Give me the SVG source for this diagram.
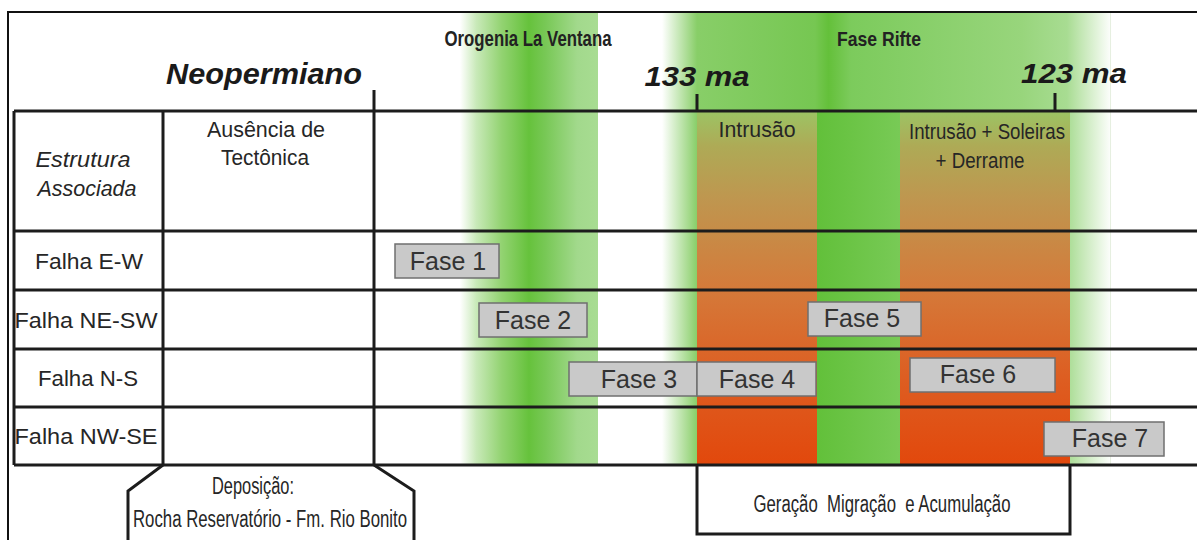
<svg xmlns="http://www.w3.org/2000/svg" width="1197" height="540" viewBox="0 0 1197 540">
<style>
.ln{stroke:#1c1c1c;stroke-width:3;fill:none}
.fr{stroke:#111;stroke-width:2;fill:none}
.t{font-family:"Liberation Sans",Arial,sans-serif;fill:#262626}
.big{font-family:"Liberation Sans",Arial,sans-serif;font-weight:bold;font-style:italic;fill:#1a1a1a}
.hd{font-family:"Liberation Sans",Arial,sans-serif;font-weight:bold;fill:#222}
.box{fill:#c9c9c9;stroke:#6f6f6f;stroke-width:1.5}
.fl{font-family:"Liberation Sans",Arial,sans-serif;font-size:25px;fill:#333}
</style>
<defs>
<linearGradient id="gOro" gradientUnits="userSpaceOnUse" x1="460" y1="0" x2="598" y2="0">
<stop offset="0" stop-color="#ffffff"/>
<stop offset="0.12" stop-color="#c8e9b8"/>
<stop offset="0.3" stop-color="#93d372"/>
<stop offset="0.5" stop-color="#66c23c"/>
<stop offset="0.62" stop-color="#78c856"/>
<stop offset="0.85" stop-color="#a2d98c"/>
<stop offset="1" stop-color="#a8dc92"/>
</linearGradient>
<linearGradient id="gRif" gradientUnits="userSpaceOnUse" x1="662" y1="0" x2="1112" y2="0">
<stop offset="0" stop-color="#ffffff"/>
<stop offset="0.078" stop-color="#88ce68"/>
<stop offset="0.34" stop-color="#76c752"/>
<stop offset="0.37" stop-color="#64c03a"/>
<stop offset="0.42" stop-color="#7ccb5c"/>
<stop offset="0.8" stop-color="#98d57c"/>
<stop offset="0.9" stop-color="#a8dc92"/>
<stop offset="1" stop-color="#ffffff"/>
</linearGradient>
<linearGradient id="gOr" gradientUnits="userSpaceOnUse" x1="0" y1="111" x2="0" y2="465">
<stop offset="0" stop-color="#9cc464"/>
<stop offset="0.1" stop-color="#aeaa56"/>
<stop offset="0.25" stop-color="#bf964f"/>
<stop offset="0.5" stop-color="#d47a3a"/>
<stop offset="0.75" stop-color="#dd5e22"/>
<stop offset="1" stop-color="#e2480c"/>
</linearGradient>
<linearGradient id="gStrip" gradientUnits="userSpaceOnUse" x1="817" y1="0" x2="900" y2="0">
<stop offset="0" stop-color="#62c03a"/>
<stop offset="1" stop-color="#78ca56"/>
</linearGradient>
</defs>
<rect width="1197" height="540" fill="#ffffff"/>
<g id="bands">
<rect x="460" y="13" width="138" height="452" fill="url(#gOro)"/>
<rect x="662" y="13" width="450" height="452" fill="url(#gRif)"/>
<line x1="1110.5" y1="13" x2="1110.5" y2="465" stroke="#e6efe0" stroke-width="1"/>
<rect x="697" y="111" width="120" height="354" fill="url(#gOr)"/>
<rect x="817" y="111" width="83" height="354" fill="url(#gStrip)"/>
<rect x="900" y="111" width="170" height="354" fill="url(#gOr)"/>
</g>
<g id="connectors">
<path class="fr" d="M8 540 V12 H1197"/>
<path class="ln" d="M14 111 H1197 M14 231 H1197 M14 290 H1197 M14 349 H1197 M14 407 H1197 M14 465 H1197"/>
<path class="ln" d="M14 111 V465 M163 111 V465 M374 90 V465"/>
<path class="ln" d="M697 94 V111 M1055 93 V111"/>
<path class="ln" d="M163 465 L128 491 V540 M374 465 L414 491 V540"/>
<path class="ln" d="M697 465 V534 H1070 V465"/>
</g>
<g id="headers">
<text class="big" x="264" y="84" font-size="30" text-anchor="middle" textLength="196" lengthAdjust="spacingAndGlyphs">Neopermiano</text>
<text class="hd" x="528" y="46" font-size="22" text-anchor="middle" textLength="167" lengthAdjust="spacingAndGlyphs">Orogenia La Ventana</text>
<text class="hd" x="879" y="46" font-size="21" text-anchor="middle" textLength="84" lengthAdjust="spacingAndGlyphs">Fase Rifte</text>
<text class="big" x="697" y="86" font-size="27" text-anchor="middle" textLength="105" lengthAdjust="spacingAndGlyphs">133 ma</text>
<text class="big" x="1074" y="83" font-size="27" text-anchor="middle" textLength="106" lengthAdjust="spacingAndGlyphs">123 ma</text>
</g>
<g id="col-headers">
<text class="t" x="83" y="167" font-size="22" font-style="italic" text-anchor="middle" textLength="95" lengthAdjust="spacingAndGlyphs">Estrutura</text>
<text class="t" x="87" y="196" font-size="22" font-style="italic" text-anchor="middle" textLength="99" lengthAdjust="spacingAndGlyphs">Associada</text>
<text class="t" x="266" y="137" font-size="22" text-anchor="middle" textLength="118" lengthAdjust="spacingAndGlyphs">Ausência de</text>
<text class="t" x="265" y="165" font-size="22" text-anchor="middle" textLength="88" lengthAdjust="spacingAndGlyphs">Tectônica</text>
<text class="t" x="757" y="137" font-size="22" text-anchor="middle" textLength="77" lengthAdjust="spacingAndGlyphs">Intrusão</text>
<text class="t" x="987" y="139" font-size="22" text-anchor="middle" textLength="156" lengthAdjust="spacingAndGlyphs">Intrusão + Soleiras</text>
<text class="t" x="980" y="168" font-size="22" text-anchor="middle" textLength="89" lengthAdjust="spacingAndGlyphs">+ Derrame</text>
</g>
<g id="rows">
<text class="t" x="89" y="269" font-size="22" text-anchor="middle" textLength="108" lengthAdjust="spacingAndGlyphs">Falha E-W</text>
<text class="t" x="86" y="328" font-size="22" text-anchor="middle" textLength="143" lengthAdjust="spacingAndGlyphs">Falha NE-SW</text>
<text class="t" x="88" y="386" font-size="22" text-anchor="middle" textLength="100" lengthAdjust="spacingAndGlyphs">Falha N-S</text>
<text class="t" x="86" y="444" font-size="22" text-anchor="middle" textLength="143" lengthAdjust="spacingAndGlyphs">Falha NW-SE</text>
</g>
<g id="fase1"><rect class="box" x="395" y="244" width="104" height="34"/><text class="fl" x="448" y="270" text-anchor="middle">Fase 1</text></g>
<g id="fase2"><rect class="box" x="479" y="303" width="108" height="34"/><text class="fl" x="533" y="329" text-anchor="middle">Fase 2</text></g>
<g id="fase3"><rect class="box" x="569" y="362" width="128" height="34"/><text class="fl" x="639" y="388" text-anchor="middle">Fase 3</text></g>
<g id="fase4"><rect class="box" x="697" y="362" width="119" height="34"/><text class="fl" x="757" y="388" text-anchor="middle">Fase 4</text></g>
<g id="fase5"><rect class="box" x="808" y="302" width="113" height="34"/><text class="fl" x="862" y="327" text-anchor="middle">Fase 5</text></g>
<g id="fase6"><rect class="box" x="910" y="358" width="145" height="34"/><text class="fl" x="978" y="383" text-anchor="middle">Fase 6</text></g>
<g id="fase7"><rect class="box" x="1044" y="422" width="120" height="34"/><text class="fl" x="1110" y="447" text-anchor="middle">Fase 7</text></g>
<g id="deposicao">
<text class="t" x="253" y="494" font-size="23" text-anchor="middle" textLength="82" lengthAdjust="spacingAndGlyphs">Deposição:</text>
<text class="t" x="270" y="527" font-size="23" text-anchor="middle" textLength="274" lengthAdjust="spacingAndGlyphs">Rocha Reservatório - Fm. Rio Bonito</text>
</g>
<g id="geracao">
<text class="t" x="882" y="512" font-size="23" text-anchor="middle" textLength="257" lengthAdjust="spacingAndGlyphs" xml:space="preserve">Geração  Migração  e Acumulação</text>
</g>
</svg>
